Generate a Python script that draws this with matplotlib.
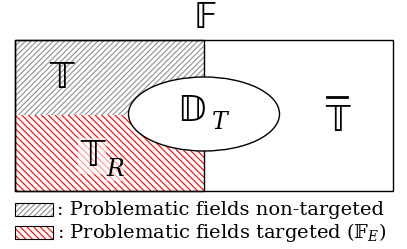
import matplotlib.pyplot as plt
from matplotlib.patches import Rectangle, Ellipse

plt.rcParams['mathtext.fontset'] = 'dejavuserif'
plt.rcParams['font.family'] = ['DejaVu Serif', 'DejaVu Sans']
plt.rcParams['hatch.linewidth'] = 0.8

# Diagram content (pixel layout of the original, y grows downwards)
title = '\U0001D53D'          # double-struck F
bb_T = '\U0001D54B'           # double-struck T
bb_D = '\U0001D53B'           # double-struck D
legend_texts = [': Problematic fields non-targeted',
                ': Problematic fields targeted (\U0001D53D$_{E}$)']
hatch_colors = ['#909090', 'red']
hatch_styles = ['//////', '\\\\\\\\\\']

BB = 'DejaVu Sans'
SZ = 25

fig = plt.figure(figsize=(4.07, 2.49), dpi=100)
ax = fig.add_axes([0, 0, 1, 1])
ax.set_xlim(0, 407)
ax.set_ylim(249, 0)
ax.axis('off')

# targeted / non-targeted halves of T
ax.add_patch(Rectangle((15, 40), 189, 75, facecolor='white', hatch=hatch_styles[0],
                       edgecolor=hatch_colors[0], lw=0))
ax.add_patch(Rectangle((15, 115), 189, 76, facecolor='white', hatch=hatch_styles[1],
                       edgecolor=hatch_colors[1], lw=0))
ax.add_patch(Rectangle((15, 40), 189, 151, fill=False, lw=1, ec='black'))
# outer box F
ax.add_patch(Rectangle((15, 40), 378, 151, fill=False, lw=1, ec='black'))
# D_T ellipse
ax.add_patch(Ellipse((204, 114), 151, 74, facecolor='white', edgecolor='black', lw=1))

ax.text(205, 18, title, family=BB, fontsize=SZ, ha='center', va='center')
ax.text(61, 78, bb_T, family=BB, fontsize=SZ, ha='center', va='center')
# D_T
ax.text(191, 111, bb_D, family=BB, fontsize=SZ, ha='center', va='center')
ax.text(220, 122, 'T', style='italic', fontsize=17, ha='center', va='center')
# T bar
ax.text(337, 121, bb_T, family=BB, fontsize=SZ, ha='center', va='center')
ax.plot([327, 347], [97, 97], color='black', lw=2)
# T_R
ax.text(92, 156, bb_T, family=BB, fontsize=SZ, ha='center', va='center',
        bbox=dict(facecolor='white', alpha=0.6, edgecolor='none', pad=1))
ax.text(115, 169, 'R', style='italic', fontsize=17, ha='center', va='center',
        bbox=dict(facecolor='white', alpha=0.6, edgecolor='none', pad=0))

for i, txt in enumerate(legend_texts):
    y0 = 203 + i * 23
    ax.add_patch(Rectangle((15, y0), 38, 13, facecolor='white', hatch=hatch_styles[i],
                           edgecolor=hatch_colors[i], lw=0))
    ax.add_patch(Rectangle((15, y0), 38, 13, fill=False, edgecolor='black', lw=0.8))
    ax.text(57, y0 + 6.5, txt, fontsize=14, ha='left', va='center')

fig.savefig('out.png', dpi=100)
